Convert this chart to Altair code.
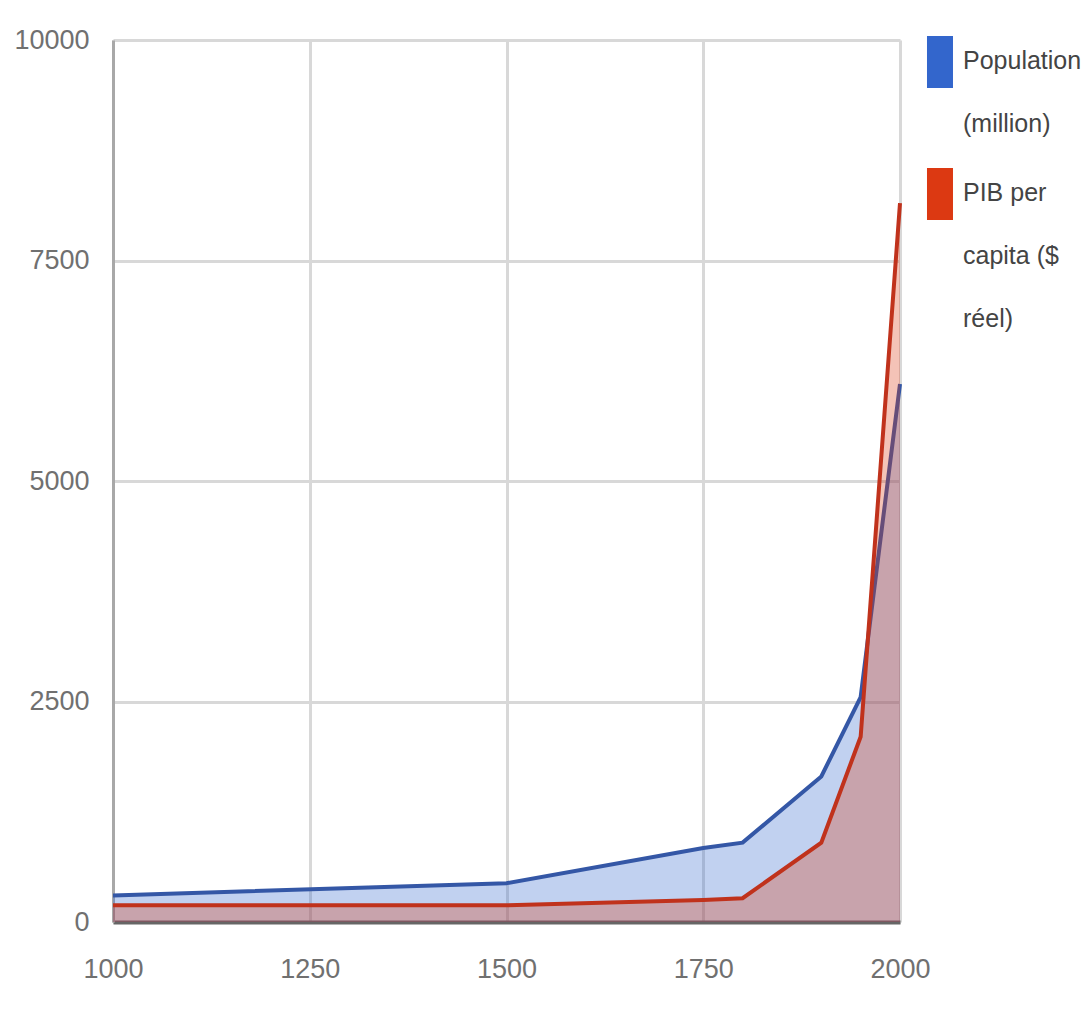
import altair as alt
import pandas as pd

years = [1000, 1500, 1750, 1800, 1900, 1950, 2000]
population = [300, 440, 840, 900, 1650, 2550, 6100]
pib = [190, 190, 250, 270, 900, 2100, 8150]

series_names = ["Population (million)", "PIB per capita ($ réel)"]
series_colors = ["#3366cc", "#dc3912"]
line_colors = ["#3457a6", "#c0321c"]

rows = []
for y, p, g in zip(years, population, pib):
    rows.append({"year": y, "value": p, "series": series_names[0]})
    rows.append({"year": y, "value": g, "series": series_names[1]})
df = pd.DataFrame(rows)

FONT = "Liberation Sans, Arial, sans-serif"

x = alt.X("year:Q", scale=alt.Scale(domain=[1000, 2000], nice=False, zero=False),
          axis=alt.Axis(values=[1000, 1250, 1500, 1750, 2000], title=None, format="d",
                        labelFlush=False))
y = alt.Y("value:Q", scale=alt.Scale(domain=[0, 10000], nice=False),
          axis=alt.Axis(values=[0, 2500, 5000, 7500, 10000], title=None, format="d",
                        labelFlush=False))

color_area = alt.Color(
    "series:N",
    scale=alt.Scale(domain=series_names, range=series_colors),
    legend=alt.Legend(
        title=None,
        orient="none",
        legendX=798,
        legendY=-17,
        symbolType="M-0.385,-0.5 L0.615,-0.5 L0.615,1.5 L-0.385,1.5 Z",
        symbolSize=2704,
        symbolOpacity=1,
        symbolStrokeWidth=0,
        labelFont=FONT,
        labelFontSize=25,
        labelColor="#444444",
        labelBaseline="top",
        labelOffset=0,
        labelLimit=300,
        rowPadding=18,
        labelExpr="datum.label == 'Population (million)' ? ['Population', '(million)'] : ['PIB per', 'capita ($', 'réel)']",
    ),
)

layers = []
for i, name in enumerate(series_names):
    base = alt.Chart(df).transform_filter(alt.datum.series == name)
    area = base.mark_area(opacity=0.3).encode(x=x, y=y, color=color_area)
    line = base.mark_line(strokeWidth=4, color=line_colors[i]).encode(x=x, y=y)
    layers += [area, line]

chart = alt.layer(*layers).properties(
    width=787,
    height=882,
    padding={"left": 105, "top": 32, "right": 182, "bottom": 70},
    autosize=alt.AutoSizeParams(type="none"),
).configure(
    style={"guide-label": {"lineHeight": 63}}
).configure_view(
    stroke=None
).configure_axis(
    labelFont=FONT,
    labelFontSize=27,
    labelColor="#707070",
    ticks=False,
    gridColor="#d8d8d8",
    gridWidth=3,
).configure_axisX(
    labelPadding=34,
    domainColor="#666666",
    domainWidth=4,
).configure_axisY(
    labelPadding=24,
    domainColor="#a8a8a8",
    domainWidth=3,
)

chart.save("out.html", embed_options={"renderer": "svg", "actions": False})
